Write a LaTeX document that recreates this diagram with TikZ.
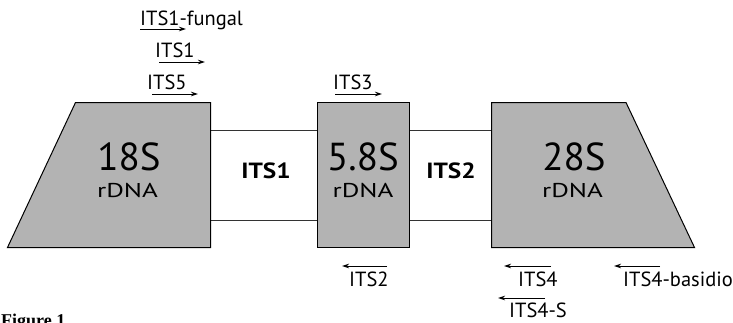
\documentclass[tikz,border=0pt]{standalone}
\usepackage{fontspec}
\setmainfont{PT Sans}
\newfontfamily\widefont[FakeStretch=1.35]{PT Sans}
\newfontfamily\boldwide[FakeStretch=1.15]{PT Sans Bold}
\newfontfamily\captionfont{Liberation Serif}
\usetikzlibrary{arrows.meta}
\definecolor{boxgray}{RGB}{179,179,179}
\tikzset{
  region/.style={draw=black, line width=1pt, fill=boxgray, line join=miter},
  strand/.style={draw=black!80, line width=1pt},
  primer/.style={-{Stealth[length=7pt,width=4.5pt]}, line width=1pt},
  big/.style={inner sep=0pt, font=\fontsize{39}{41}\selectfont},
  sub/.style={inner sep=0pt, font=\widefont\fontsize{20}{22}\selectfont},
  spacer/.style={inner sep=0pt, font=\boldwide\fontsize{22}{24}\selectfont},
  lab/.style={inner sep=0pt, anchor=base west, font=\fontsize{20.5}{22}\selectfont},
}
\begin{document}
\begin{tikzpicture}[x=1pt,y=-1pt]
\useasboundingbox (0,0) rectangle (733,322);
\clip (0,0) rectangle (733,322);
% 18S
\coordinate (a1) at (75.5,102.5);
\coordinate (a2) at (210.5,102.5);
\coordinate (a3) at (210.5,247.5);
\coordinate (a4) at (7.5,247.5);
% 5.8S
\coordinate (b1) at (317.5,102.5);
\coordinate (b2) at (409.5,102.5);
\coordinate (b3) at (409.5,247.5);
\coordinate (b4) at (317.5,247.5);
% 28S
\coordinate (c1) at (491.5,102.5);
\coordinate (c2) at (626,102.5);
\coordinate (c3) at (694.5,247.5);
\coordinate (c4) at (491.5,247.5);
% spacer strands
\draw[strand] (210.5,130) coordinate (s1) -- (317.5,130) coordinate (s2);
\draw[strand] (210.5,220.5) coordinate (s3) -- (317.5,220.5) coordinate (s4);
\draw[strand] (409.5,130) coordinate (s5) -- (491.5,130) coordinate (s6);
\draw[strand] (409.5,220.5) coordinate (s7) -- (491.5,220.5) coordinate (s8);
\draw[region] (a1) -- (a2) -- (a3) -- (a4) -- cycle;
\draw[region] (b1) -- (b2) -- (b3) -- (b4) -- cycle;
\draw[region] (c1) -- (c2) -- (c3) -- (c4) -- cycle;
% labels in regions
\node[big, anchor=base] (t18) at (129,170) {18S};
\node[sub, anchor=base] (r18) at (127.5,197) {rDNA};
\node[big, anchor=base] (t58) at (363,170) {5.8S};
\node[sub, anchor=base] (r58) at (363,197) {rDNA};
\node[big, anchor=base] (t28) at (574,170) {28S};
\node[sub, anchor=base] (r28) at (572.5,197) {rDNA};
\node[spacer, anchor=base] (its1) at (266,178.5) {ITS1};
\node[spacer, anchor=base] (its2) at (451,178.5) {ITS2};
% forward primers
\coordinate (p1s) at (140,29); \coordinate (p1e) at (186,29);
\draw[primer] (p1s) -- (p1e);
\node[lab] (l1) at (140,25.5) {ITS1-fungal};
\coordinate (p2s) at (159,62); \coordinate (p2e) at (205,62);
\draw[primer] (p2s) -- (p2e);
\node[lab] (l2) at (155,57.5) {ITS1};
\coordinate (p3s) at (152,94); \coordinate (p3e) at (198,94);
\draw[primer] (p3s) -- (p3e);
\node[lab] (l3) at (147,89.5) {ITS5};
\coordinate (p4s) at (335,94); \coordinate (p4e) at (382,94);
\draw[primer] (p4s) -- (p4e);
\node[lab] (l4) at (333,89.5) {ITS3};
% reverse primers
\coordinate (q1s) at (387,266); \coordinate (q1e) at (342,266);
\draw[primer] (q1s) -- (q1e);
\node[lab] (m1) at (349,286.5) {ITS2};
\coordinate (q2s) at (551,266); \coordinate (q2e) at (504,266);
\draw[primer] (q2s) -- (q2e);
\node[lab] (m2) at (518,286.5) {ITS4};
\coordinate (q3s) at (660,266); \coordinate (q3e) at (614,266);
\draw[primer] (q3s) -- (q3e);
\node[lab] (m3) at (623,286.5) {ITS4-basidio};
\coordinate (q4s) at (545,298); \coordinate (q4e) at (498,298);
\draw[primer] (q4s) -- (q4e);
\node[lab, text depth=0pt] (m4) at (509,317.5) {ITS4-S};
% cut caption
\node[inner sep=0pt, anchor=base west, font=\captionfont\bfseries\fontsize{18}{20}\selectfont] (cap) at (1,326) {Figure 1};
\end{tikzpicture}
\end{document}
